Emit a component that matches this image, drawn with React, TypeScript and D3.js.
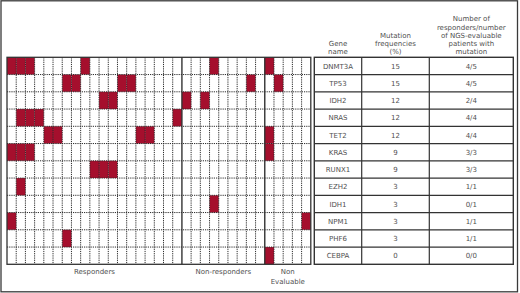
import React from "react";
import * as d3 from "d3";

const genes = ["DNMT3A", "TP53", "IDH2", "NRAS", "TET2", "KRAS", "RUNX1", "EZH2", "IDH1", "NPM1", "PHF6", "CEBPA"];
const mutationFreq = [15, 15, 12, 12, 12, 9, 9, 3, 3, 3, 3, 0];
const responderRatio = ["4/5", "4/5", "2/4", "4/4", "4/4", "3/3", "3/3", "1/1", "0/1", "1/1", "1/1", "0/0"];
// mutated patient column indices per gene (0-based, 33 patients)
const mutatedPatients = [
  [0, 1, 2, 8, 22, 28],
  [6, 7, 12, 13, 26, 29],
  [10, 11, 19, 21],
  [1, 2, 3, 18],
  [4, 5, 14, 15, 28],
  [0, 1, 2, 28],
  [9, 10, 11],
  [1],
  [22],
  [0, 32],
  [6],
  [28],
];
const groupNames = [["Responders"], ["Non-responders"], ["Non", "Evaluable"]];
const groupSizes = [19, 9, 5];
const headerLines = [
  ["Gene", "name"],
  ["Mutation", "frequencies", "(%)"],
  ["Number of", "responders/number", "of NGS-evaluable", "patients with", "mutation"],
];

const W = 520;
const H = 293;
const nPatients = d3.sum(groupSizes);
const gridLeft = 7;
const gridRight = 310.8;
const top = 57.3;
const bottom = 264.3;
const tableCols = [314.3, 361.7, 429.3, 513.3];
const RED = "#a50f2d";
const LINE = "#2a2a2a";
const TEXT = "#505050";
const FONT = "'DejaVu Sans', sans-serif";

export default function App() {
  const x = d3.scaleBand<number>().domain(d3.range(nPatients)).range([gridLeft, gridRight]).padding(0);
  const y = d3.scaleBand<number>().domain(d3.range(genes.length)).range([top, bottom]).padding(0);
  const bw = x.bandwidth();
  const bh = y.bandwidth();

  const cum = [0, ...d3.cumsum(groupSizes)];
  const groupEdges = cum.map((c) => (c < nPatients ? x(c)! : gridRight));

  const fs = 7;
  const lh = 8.1;

  return (
    <svg width={W} height={H} style={{ position: "fixed", left: 0, top: 0, background: "#fff" }} fontFamily={FONT}>
      <rect x={0} y={0} width={W} height={H} fill="#fff" />
      <rect x={1} y={0.8} width={516.5} height={291} fill="none" stroke="#3a3a3a" strokeWidth={1.3} />

      {/* mutation cells */}
      {mutatedPatients.map((cols, gi) =>
        cols.map((c) => (
          <rect key={`${gi}-${c}`} x={x(c)} y={y(gi)} width={bw} height={bh} fill={RED} />
        ))
      )}

      {/* dotted inner vertical lines */}
      {d3.range(1, nPatients).filter((c) => !cum.includes(c)).map((c) => (
        <line key={`v${c}`} x1={x(c)} x2={x(c)} y1={top} y2={bottom} stroke={LINE} strokeWidth={1} strokeDasharray="1.2,1" />
      ))}
      {/* dotted inner horizontal lines */}
      {d3.range(1, genes.length).map((r) => (
        <line key={`h${r}`} x1={gridLeft} x2={gridRight} y1={y(r)} y2={y(r)} stroke={LINE} strokeWidth={1} strokeDasharray="1.2,1" />
      ))}
      {/* group dividers */}
      {groupEdges.slice(1, -1).map((e, i) => (
        <line key={`g${i}`} x1={e} x2={e} y1={top} y2={bottom} stroke="#333" strokeWidth={1.4} />
      ))}
      <rect x={gridLeft} y={top} width={gridRight - gridLeft} height={bottom - top} fill="none" stroke="#333" strokeWidth={1.3} />

      {/* group labels */}
      {groupNames.map((lines, i) => {
        const cx = (groupEdges[i] + groupEdges[i + 1]) / 2;
        return lines.map((t, j) => (
          <text key={`gl${i}-${j}`} x={cx} y={273.8 + j * 10} textAnchor="middle" fontSize={fs} fill={TEXT}>
            {t}
          </text>
        ));
      })}

      {/* table */}
      {headerLines.map((lines, ci) => {
        const cx = (tableCols[ci] + tableCols[ci + 1]) / 2;
        const n = lines.length;
        return lines.map((t, j) => (
          <text key={`hd${ci}-${j}`} x={cx} y={53.8 - (n - 1 - j) * lh} textAnchor="middle" fontSize={fs} fill={TEXT}>
            {t}
          </text>
        ));
      })}
      {genes.map((g, i) => {
        const cy = y(i)! + bh / 2 + 2.6;
        const vals = [g, String(mutationFreq[i]), responderRatio[i]];
        return vals.map((v, ci) => (
          <text key={`t${i}-${ci}`} x={(tableCols[ci] + tableCols[ci + 1]) / 2} y={cy} textAnchor="middle" fontSize={fs} fill={TEXT}>
            {v}
          </text>
        ));
      })}
      {d3.range(1, genes.length).map((r) => (
        <line key={`th${r}`} x1={tableCols[0]} x2={tableCols[3]} y1={y(r)} y2={y(r)} stroke="#333" strokeWidth={1.2} />
      ))}
      {tableCols.slice(1, 3).map((cx, i) => (
        <line key={`tv${i}`} x1={cx} x2={cx} y1={top} y2={bottom} stroke="#333" strokeWidth={1.2} />
      ))}
      <rect x={tableCols[0]} y={top} width={tableCols[3] - tableCols[0]} height={bottom - top} fill="none" stroke="#333" strokeWidth={1.4} />
    </svg>
  );
}
